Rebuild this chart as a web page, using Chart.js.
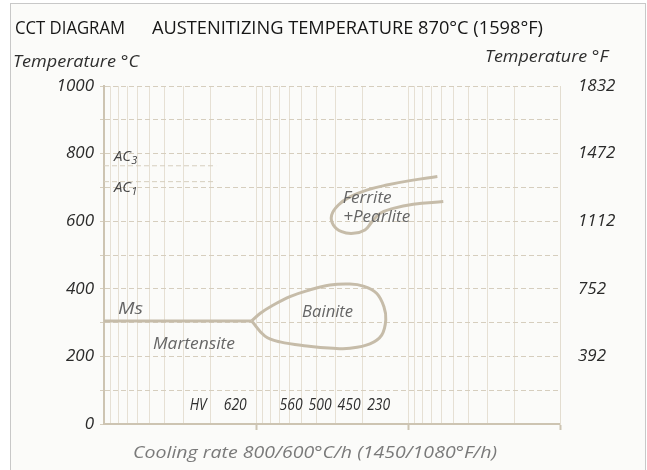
<!DOCTYPE html>
<html><head><meta charset="utf-8">
<script src="https://cdn.jsdelivr.net/npm/chart.js@4/dist/chart.umd.min.js"></script>
<style>html,body{margin:0;padding:0;background:#fff;}#wrap{width:647px;height:470px;position:relative;}</style>
</head><body><div id="wrap"><canvas id="c" width="647" height="470"></canvas></div>
<script>
// ---- data (x = cooling rate, log scale reversed; y = temperature °C)
const msRate = [1000, 106.7];
const msTemp = [305, 305];
const bainiteRate = [106.7, 94.1, 76.9, 59.8, 46.4, 32.6, 24.1, 19.7, 16.1, 14.4, 14.0, 14.9, 17.8, 24.1, 31.0, 46.4, 69.5, 87.3, 106.7];
const bainiteTemp = [305, 327, 352, 377, 394, 411, 414, 408, 387, 347, 308, 263, 237, 224, 224, 231, 243, 260, 305];
const ferritePearliteRate = [6.41, 9.70, 13.8, 18.7, 24.1, 28.7, 31.8, 31.0, 27.3, 22.9, 19.2, 17.3, 15.3, 12.5, 9.23, 5.86];
const ferritePearliteTemp = [732, 720, 707, 692, 672, 648, 618, 589, 569, 564, 574, 598, 623, 638, 650, 658];
const acRate = [1000, 183];
const ac3Temp = [764, 764];
const ac1Temp = [717, 717];
const yTicksC = [0, 200, 400, 600, 800, 1000];
const yTicksF = [392, 752, 1112, 1472, 1832];
const xGridValues = [1,2,3,4,5,6,7,8,9,10,20,30,40,50,60,70,80,90,100,200,300,400,500,600,700,800,900,1000];
const xMajorValues = [1, 10, 100];
const hvLabels = ['HV', '620', '560', '500', '450', '230'];
const hvRates = [240, 137, 58.8, 37.9, 24.4, 15.6];
const hvTemp = 56;

const FONT = '"Open Sans", Lato, sans-serif';
const CURVE = '#c6bca9';
const AXIS = '#cdc4b2';
const DASH = '#d6cebe';
const VGRID = '#e6e0d4';

function pts(xs, ys){ return xs.map((x,i)=>({x:x, y:ys[i]})); }

// annotation layout (text anchors in data space, fitted widths in px)
const regionLabels = [
  {text:'Ms', rate:809, temp:340, align:'left', size:17, w:25},
  {text:'Martensite', rate:476, temp:234, align:'left', size:16, w:82},
  {text:'Bainite', rate:33.8, temp:329, align:'center', size:16, w:51},
  {text:'Ferrite', rate:26.9, temp:666, align:'left', size:16, w:49},
  {text:'+Pearlite', rate:26.7, temp:612, align:'left', size:16, w:67}
];
const hvWidths = [17, 23, 23, 23, 23, 23];
const acLabels = [
  {main:'AC', sub:'3', rate:860, temp:790},
  {main:'AC', sub:'1', rate:860, temp:700}
];

function fitText(ctx, text, x, y, width, align){
  const w = ctx.measureText(text).width;
  const sx = width / w;
  ctx.save();
  ctx.translate(x, y);
  ctx.scale(sx, 1);
  ctx.textAlign = align;
  ctx.fillText(text, 0, 0);
  ctx.restore();
}

const decor = {
  id:'decor',
  beforeDraw(chart){
    const ctx = chart.ctx;
    ctx.save();
    ctx.fillStyle = '#ffffff'; ctx.fillRect(0,0,647,470);
    ctx.fillStyle = '#fbfbf9'; ctx.fillRect(10,3,636,467);
    ctx.strokeStyle = '#c8c8c8'; ctx.lineWidth = 1; ctx.strokeRect(10.5,3.5,635,470);
    ctx.restore();
  },
  afterDraw(chart){
    const ctx = chart.ctx, xs = chart.scales.x, ys = chart.scales.y;
    ctx.save();
    ctx.textBaseline = 'middle';
    // title
    ctx.fillStyle = '#161616';
    ctx.font = '18px ' + FONT;
    fitText(ctx, 'CCT DIAGRAM', 15, 29, 110, 'left');
    fitText(ctx, 'AUSTENITIZING TEMPERATURE 870°C (1598°F)', 152, 29, 391, 'left');
    ctx.fillStyle = '#2e2e2e';
    ctx.font = 'italic 16px ' + FONT;
    fitText(ctx, 'Temperature °C', 13, 62, 126, 'left');
    fitText(ctx, 'Temperature °F', 608, 57, 123, 'right');
    // x axis title
    ctx.fillStyle = '#7a7a7a';
    ctx.font = 'italic 17px ' + FONT;
    fitText(ctx, 'Cooling rate 800/600°C/h (1450/1080°F/h)', 315, 453, 364, 'center');
    // region labels
    ctx.fillStyle = '#666';
    regionLabels.forEach(l => {
      ctx.font = 'italic ' + l.size + 'px ' + FONT;
      fitText(ctx, l.text, xs.getPixelForValue(l.rate), ys.getPixelForValue(l.temp), l.w, l.align);
    });
    // AC labels
    ctx.fillStyle = '#444'; ctx.textAlign = 'left';
    acLabels.forEach(l => {
      const px = xs.getPixelForValue(l.rate), py = ys.getPixelForValue(l.temp);
      ctx.font = 'italic 15px ' + FONT;
      ctx.fillText(l.main, px, py);
      const w = ctx.measureText(l.main).width;
      ctx.font = 'italic 11px ' + FONT;
      ctx.fillText(l.sub, px + w, py + 4);
    });
    // HV labels
    ctx.fillStyle = '#2e2e2e';
    ctx.font = 'italic 16px ' + FONT;
    hvLabels.forEach((t,i) => {
      fitText(ctx, t, xs.getPixelForValue(hvRates[i]), ys.getPixelForValue(hvTemp), hvWidths[i], 'center');
    });
    ctx.restore();
  }
};

const lineDs = (label, data, opts) => Object.assign({
  label, data, showLine:true, pointRadius:0, borderColor:CURVE, borderWidth:3, fill:false
}, opts||{});

new Chart(document.getElementById('c'), {
  type:'scatter',
  data:{ datasets:[
    lineDs('AC3', pts(acRate, ac3Temp), {borderColor:DASH, borderWidth:1, borderDash:[5,3]}),
    lineDs('AC1', pts(acRate, ac1Temp), {borderColor:DASH, borderWidth:1, borderDash:[5,3]}),
    lineDs('Ms', pts(msRate, msTemp)),
    lineDs('Bainite', pts(bainiteRate, bainiteTemp), {tension:0.4}),
    lineDs('Ferrite+Pearlite', pts(ferritePearliteRate, ferritePearliteTemp), {tension:0.4})
  ]},
  options:{
    responsive:false, animation:false, devicePixelRatio:1,
    layout:{padding:{top:86,left:0,right:0,bottom:0}},
    plugins:{legend:{display:false}, tooltip:{enabled:false}, title:{display:false}},
    scales:{
      x:{
        type:'logarithmic', min:1, max:1000, reverse:true,
        afterBuildTicks(s){ s.ticks = xGridValues.map(v=>({value:v})); },
        afterFit(s){ s.height = 46; },
        ticks:{display:false, autoSkip:false},
        grid:{color:VGRID, lineWidth:1, drawTicks:true, tickLength:6,
          tickColor:(c)=> (c.tick && xMajorValues.includes(c.tick.value)) ? AXIS : 'rgba(0,0,0,0)', tickWidth:2},
        border:{display:true, color:AXIS, width:2}
      },
      y:{
        position:'left', min:0, max:1000,
        afterBuildTicks(s){ const t=[]; for(let v=0; v<=1000; v+=100) t.push({value:v}); s.ticks=t; },
        afterFit(s){ s.width = 104; },
        ticks:{color:'#2a2a2a', padding:6, font:{family:FONT, size:17, style:'italic'},
          callback:(v)=> yTicksC.includes(v) ? String(v) : ''},
        grid:{color:DASH, lineWidth:1, tickLength:4},
        border:{display:true, color:AXIS, width:2, dash:[5,3]}
      },
      yF:{
        position:'right', min:32, max:1832,
        afterBuildTicks(s){ s.ticks = yTicksF.map(v=>({value:v})); },
        afterFit(s){ s.width = 87; },
        ticks:{color:'#2a2a2a', padding:10, font:{family:FONT, size:17, style:'italic'},
          callback:(v)=> String(v)},
        grid:{display:false, drawOnChartArea:false},
        border:{display:true, color:'#e3ddd0', width:1}
      }
    }
  },
  plugins:[decor]
});
</script>
</body></html>
